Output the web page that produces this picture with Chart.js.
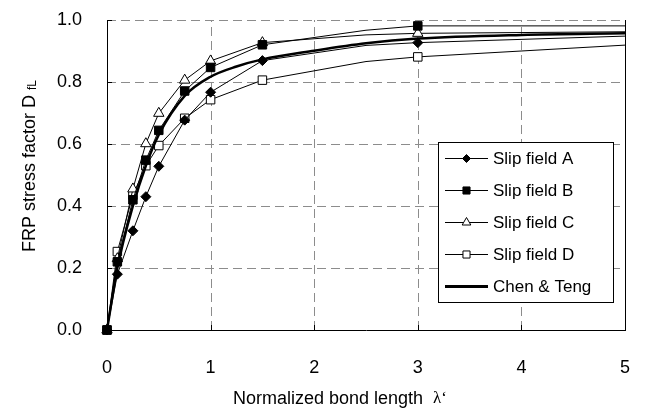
<!DOCTYPE html>
<html lang="en">
<head>
<meta charset="UTF-8">
<title>FRP stress factor vs normalized bond length</title>
<script src="https://cdn.jsdelivr.net/npm/chart.js@4"></script>
<style>
  * { margin: 0; padding: 0; box-sizing: border-box; }
  body { background: #fff; width: 645px; height: 416px; overflow: hidden; }
  #wrap { position: relative; width: 645px; height: 416px; }
</style>
</head>
<body>
<div id="wrap"><canvas id="chart"></canvas></div>
<script>
// ── Data ────────────────────────────────────────────────────────────────────
const xVals   = [0, 0.1, 0.25, 0.375, 0.5, 0.75, 1, 1.5, 2.5, 3, 5];
const markedX = [0, 0.1, 0.25, 0.375, 0.5, 0.75, 1, 1.5, 3];
const slipA = [0, 0.18, 0.32, 0.43, 0.528, 0.677, 0.767, 0.869, 0.918, 0.927, 0.948];
const slipB = [0, 0.22, 0.42, 0.548, 0.644, 0.771, 0.847, 0.92, 0.967, 0.981, 0.981];
const slipC = [0, 0.23, 0.455, 0.601, 0.699, 0.806, 0.868, 0.927, 0.952, 0.957, 0.962];
const slipD = [0, 0.253, 0.435, 0.53, 0.595, 0.683, 0.743, 0.806, 0.866, 0.881, 0.919];

const chenX = [0, 0.1, 0.25, 0.375, 0.5, 0.75, 1, 1.25, 1.5, 2, 2.5, 3, 4, 5];
const chenY = [0, 0.2, 0.4, 0.53, 0.63, 0.755, 0.817, 0.85, 0.873, 0.901, 0.925, 0.94, 0.952, 0.957];

const xTicks = [0, 1, 2, 3, 4, 5];
const yTicks = [0, 0.2, 0.4, 0.6, 0.8, 1.0];

const FONT = '"Liberation Sans", Arial, sans-serif';

const pts = (xs, ys) => xs.map((x, i) => ({ x, y: ys[i] }));
const radii = r => xVals.map(x => markedX.includes(x) ? r : 0);

function slipSet(label, ys, style, fill, r) {
  return {
    label, data: pts(xVals, ys), borderColor: '#000', borderWidth: 1,
    pointStyle: style, pointRadius: radii(r), pointHoverRadius: radii(r),
    pointBackgroundColor: fill, pointBorderColor: '#000', pointBorderWidth: 1,
    tension: 0, clip: false, legendR: r
  };
}

const datasets = [
  { label: 'Chen & Teng', data: pts(chenX, chenY), borderColor: '#000', borderWidth: 2.5,
    pointRadius: 0, cubicInterpolationMode: 'monotone', clip: false, order: 0 },
  Object.assign(slipSet('Slip field A', slipA, 'rectRot', '#000', 5), { order: 1 }),
  Object.assign(slipSet('Slip field B', slipB, 'rect', '#000', 6), { order: 2 }),
  Object.assign(slipSet('Slip field C', slipC, 'triangle', '#fff', 6), { order: 3 }),
  Object.assign(slipSet('Slip field D', slipD, 'rect', '#fff', 6), { order: 4 })
];
const legendOrder = ['Slip field A', 'Slip field B', 'Slip field C', 'Slip field D', 'Chen & Teng'];

// ── Plot frame: dashed grid, inner ticks, right border ─────────────────────
const framePlugin = {
  id: 'frame',
  beforeDatasetsDraw(chart) {
    const { ctx, chartArea: a, scales: { x, y } } = chart;
    ctx.save();
    ctx.strokeStyle = '#8c8c8c';
    ctx.lineWidth = 1;
    ctx.setLineDash([9, 5]);
    xTicks.slice(1, -1).forEach(v => {
      const px = Math.round(x.getPixelForValue(v)) + 0.5;
      ctx.beginPath(); ctx.moveTo(px, a.bottom); ctx.lineTo(px, a.top); ctx.stroke();
    });
    yTicks.slice(1).forEach(v => {
      const py = Math.round(y.getPixelForValue(v)) + 0.5;
      ctx.beginPath(); ctx.moveTo(a.left, py); ctx.lineTo(a.right, py); ctx.stroke();
    });
    ctx.setLineDash([]);
    ctx.strokeStyle = '#000';
    const rx = Math.round(a.right) + 0.5;
    ctx.beginPath(); ctx.moveTo(rx, a.top); ctx.lineTo(rx, a.bottom); ctx.stroke();
    xTicks.forEach(v => {
      const px = Math.round(x.getPixelForValue(v)) + 0.5;
      ctx.beginPath(); ctx.moveTo(px, a.bottom); ctx.lineTo(px, a.bottom - 5); ctx.stroke();
    });
    yTicks.forEach(v => {
      const py = Math.round(y.getPixelForValue(v)) + 0.5;
      ctx.beginPath(); ctx.moveTo(a.left, py); ctx.lineTo(a.left + 5, py); ctx.stroke();
    });
    ctx.restore();
  },
  afterDraw(chart) {
    const ctx = chart.ctx;
    ctx.save();
    ctx.fillStyle = '#000';
    // y axis title
    ctx.translate(30, 252);
    ctx.rotate(-Math.PI / 2);
    ctx.font = '18px ' + FONT;
    ctx.textBaseline = 'middle';
    ctx.textAlign = 'left';
    const main = 'FRP stress factor D ';
    ctx.fillText(main, 0, 0);
    const w = ctx.measureText(main).width;
    ctx.font = '12px ' + FONT;
    ctx.fillText('fL', w, 3);
    ctx.restore();

    // x axis title
    ctx.save();
    ctx.fillStyle = '#000';
    ctx.font = '18px ' + FONT;
    ctx.textBaseline = 'middle';
    ctx.textAlign = 'left';
    const xt = 'Normalized bond length  ';
    ctx.fillText(xt, 233, 399);
    const xw = ctx.measureText(xt).width;
    ctx.font = '17px "Liberation Serif", "DejaVu Serif", serif';
    ctx.fillText('\u03BB\u2018', 233 + xw, 399);
    ctx.restore();

    // legend box
    const bx = 438.5, by = 142.5, bw = 175, bh = 160;
    ctx.save();
    ctx.fillStyle = '#fff';
    ctx.fillRect(bx, by, bw, bh);
    ctx.strokeStyle = '#000';
    ctx.lineWidth = 1;
    ctx.strokeRect(bx, by, bw, bh);
    ctx.font = '17px ' + FONT;
    ctx.textBaseline = 'middle';
    ctx.textAlign = 'left';
    legendOrder.forEach((name, i) => {
      const ds = chart.data.datasets.find(d => d.label === name);
      const cy = 158 + i * 32;
      ctx.strokeStyle = '#000';
      ctx.lineWidth = ds.borderWidth === 1 ? 1 : 3;
      ctx.beginPath(); ctx.moveTo(445, cy + 0.5); ctx.lineTo(488, cy + 0.5); ctx.stroke();
      if (ds.legendR) {
        ctx.fillStyle = ds.pointBackgroundColor;
        ctx.lineWidth = 1;
        Chart.helpers.drawPoint(ctx, { pointStyle: ds.pointStyle, radius: ds.legendR - 1, borderWidth: 1 }, 466.5, cy + 0.5);
      }
      ctx.fillStyle = '#000';
      ctx.fillText(name, 493, cy + 1);
    });
    ctx.restore();
  }
};

new Chart(document.getElementById('chart'), {
  type: 'line',
  data: { datasets },
  options: {
    responsive: true,
    maintainAspectRatio: false,
    animation: false,
    events: [],
    layout: { autoPadding: false, padding: { left: 0, right: 20, top: 20, bottom: 0 } },
    plugins: { legend: { display: false }, tooltip: { enabled: false } },
    scales: {
      x: {
        type: 'linear', min: 0, max: 5,
        afterBuildTicks: s => { s.ticks = xTicks.map(v => ({ value: v })); },
        afterFit: s => { s.height = 86; s.paddingLeft = 0; s.paddingRight = 0; },
        grid: { display: false, drawTicks: false },
        border: { display: true, color: '#000', width: 1 },
        ticks: { color: '#000', padding: 27, font: { size: 18, family: FONT }, callback: v => String(v) }
      },
      y: {
        type: 'linear', min: 0, max: 1,
        afterBuildTicks: s => { s.ticks = yTicks.map(v => ({ value: v })); },
        afterFit: s => { s.width = 107; s.paddingTop = 0; s.paddingBottom = 0; },
        grid: { display: false, drawTicks: false },
        border: { display: true, color: '#000', width: 1 },
        ticks: { color: '#000', padding: 25, font: { size: 18, family: FONT }, callback: v => Number(v).toFixed(1) }
      }
    }
  },
  plugins: [framePlugin]
});
</script>
</body>
</html>
